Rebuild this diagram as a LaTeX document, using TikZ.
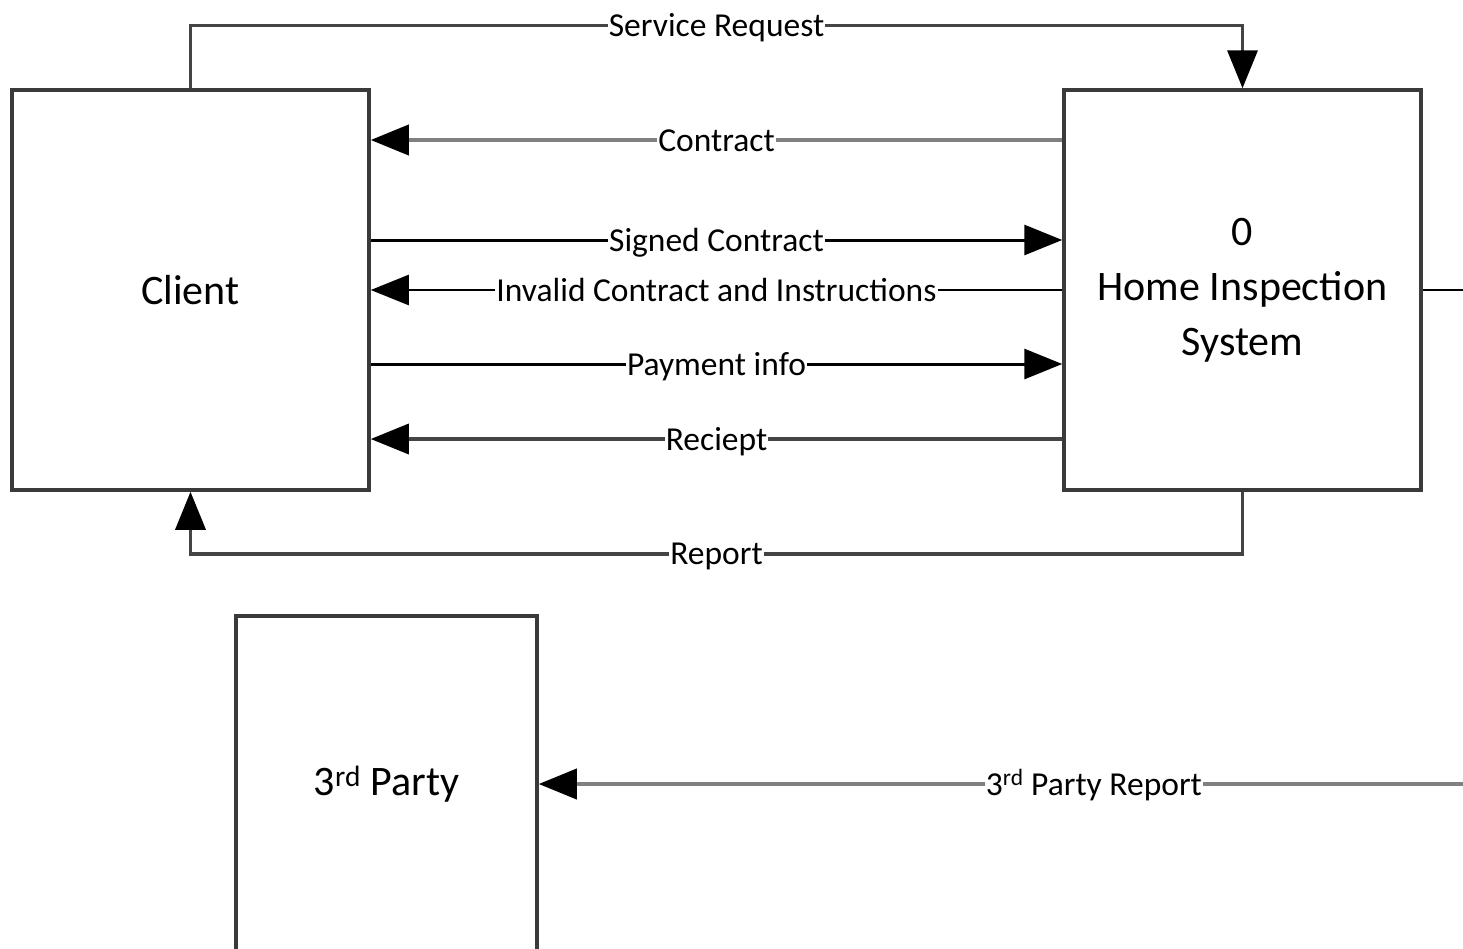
\documentclass[tikz,border=0pt]{standalone}
\usepackage{fontspec}
\setmainfont{Carlito}
\usetikzlibrary{arrows.meta}
\definecolor{boxline}{HTML}{3A3A3A}
\definecolor{darkflow}{HTML}{444444}
\definecolor{grayflow}{HTML}{808080}
\tikzset{
  entity/.style={draw=boxline, line width=3.5pt, fill=white, align=center,
    font=\fontsize{42}{55}\selectfont, inner sep=0pt},
  lbl/.style={fill=white, inner xsep=1pt, inner ysep=1pt, text height=22pt, text depth=0pt,
    font=\fontsize{33.5}{38}\selectfont},
  tip/.style={-{Triangle[length=38pt,width=30pt,color=black]}},
  blackflow/.style={tip, draw=black, line width=3pt},
  grflow/.style={tip, draw=grayflow, line width=4pt},
  dkflow/.style={tip, draw=darkflow, line width=3.5pt},
  plainline/.style={draw=black, line width=2.5pt}
}
\begin{document}
\begin{tikzpicture}[x=1pt,y=-1pt]
\useasboundingbox (0,0) rectangle (1463,948);
\clip (0,0) rectangle (1463,948);

\node[entity, minimum width=357pt, minimum height=400pt] (client) at (190.5,290) {Client};
\node[entity, minimum width=357pt, minimum height=400pt] (his) at (1242.5,290) {0\\Home Inspection\\System};
\node[entity, minimum width=301pt, minimum height=336pt] (third) at (386.5,784) {3\textsuperscript{rd} Party};

\coordinate (offr) at (1700,290);
\coordinate (offtp) at (1649,784);

% Service Request
\draw[dkflow] (client.north) -- ++(0,-63) -| node[lbl, pos=0.25] {Service Request} (his.north);
% Contract
\draw[grflow] (his.west |- 0,140) -- node[lbl] {Contract} (client.east |- 0,140);
% Signed Contract
\draw[blackflow] (client.east |- 0,240) -- node[lbl] {Signed Contract} (his.west |- 0,240);
% Invalid Contract
\draw[tip, draw=black, line width=2.5pt] (his.west |- 0,290) -- node[lbl] {Invalid Contract and Instructions} (client.east |- 0,290);
% Payment info
\draw[blackflow] (client.east |- 0,364) -- node[lbl] {Payment info} (his.west |- 0,364);
% Reciept
\draw[dkflow] (his.west |- 0,439) -- node[lbl] {Reciept} (client.east |- 0,439);
% Report
\draw[dkflow] (his.south) -- ++(0,62) -| node[lbl, pos=0.25] {Report} (client.south);
% line to the right
\draw[plainline] (his.east) -- (offr);
% 3rd Party Report
\draw[grflow] (offtp) -- node[lbl] {3\textsuperscript{rd} Party Report} (third.east);
\end{tikzpicture}
\end{document}
